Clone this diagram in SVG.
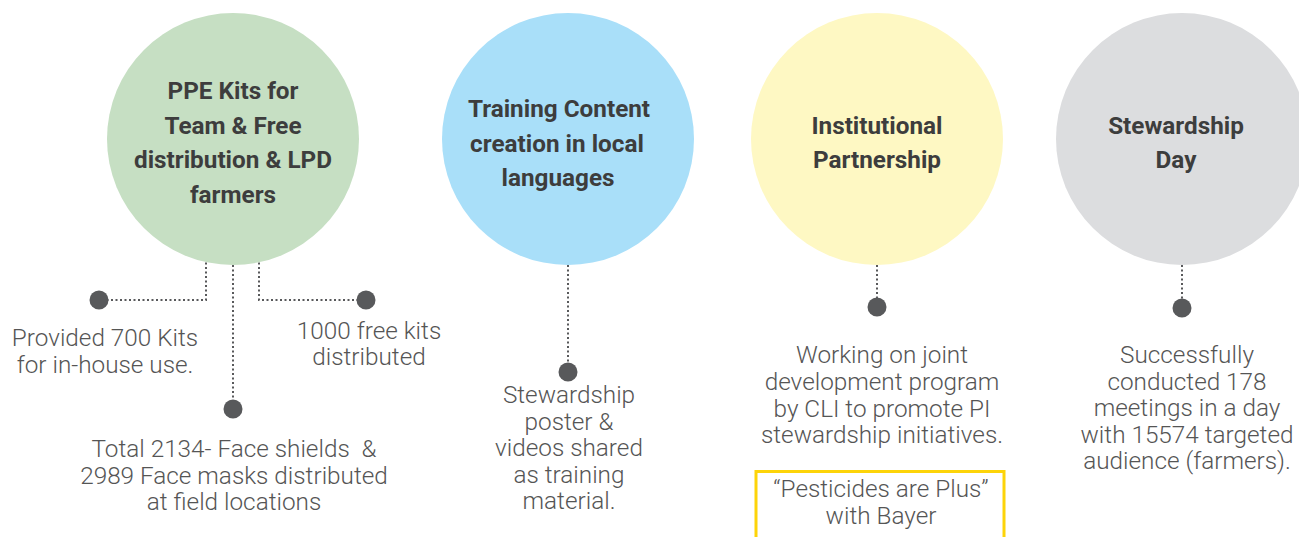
<svg xmlns="http://www.w3.org/2000/svg" width="1299" height="537" viewBox="0 0 1299 537">
<style>
.title{font-family:Roboto,"Liberation Sans",sans-serif;font-weight:700;font-size:24.3px;fill:#3d3d3d;text-anchor:middle}
.body{font-family:Roboto,"Liberation Sans",sans-serif;font-weight:300;font-size:24.3px;fill:#555555;text-anchor:middle}
.dot{fill:#58595b}
.link{fill:none;stroke:#58595b;stroke-width:2;stroke-dasharray:2 2.5}
</style>
<rect width="1299" height="537" fill="#ffffff"/>
<g id="connectors">
<path class="link" d="M206 258 V300 H99"/>
<path class="link" d="M233 265 V409"/>
<path class="link" d="M259 258 V300 H366"/>
<path class="link" d="M568 265 V372"/>
<path class="link" d="M877 265 V307"/>
<path class="link" d="M1182 265 V308"/>
</g>
<g id="node-ppe">
<circle cx="233" cy="139" r="126" fill="#c6dfc3"/>
<text class="title"><tspan x="233" y="99">PPE Kits for</tspan><tspan x="233" y="133.5">Team &amp; Free</tspan><tspan x="233" y="168">distribution &amp; LPD</tspan><tspan x="233" y="202.5">farmers</tspan></text>
</g>
<g id="node-training">
<circle cx="568" cy="139" r="126" fill="#a9dff9"/>
<text class="title"><tspan x="559" y="117">Training Content</tspan><tspan x="557" y="151.5">creation in local</tspan><tspan x="558" y="186">languages</tspan></text>
</g>
<g id="node-institutional">
<circle cx="877" cy="139" r="126" fill="#fef8c3"/>
<text class="title"><tspan x="877" y="134">Institutional</tspan><tspan x="877" y="168">Partnership</tspan></text>
</g>
<g id="node-stewardship">
<circle cx="1182" cy="139" r="126" fill="#dcdddf"/>
<text class="title"><tspan x="1176" y="134">Stewardship</tspan><tspan x="1176" y="168">Day</tspan></text>
</g>
<g id="leaf-700">
<circle class="dot" cx="99" cy="300" r="9.5"/>
<text class="body"><tspan x="105" y="346">Provided 700 Kits</tspan><tspan x="105" y="372.5">for in-house use.</tspan></text>
</g>
<g id="leaf-1000">
<circle class="dot" cx="366" cy="300" r="9.5"/>
<text class="body"><tspan x="369" y="338.5">1000 free kits</tspan><tspan x="369" y="365">distributed</tspan></text>
</g>
<g id="leaf-total">
<circle class="dot" cx="233" cy="409" r="9.5"/>
<text class="body" xml:space="preserve"><tspan x="234" y="457">Total 2134- Face shields  &amp;</tspan><tspan x="234" y="483.5">2989 Face masks distributed</tspan><tspan x="234" y="510">at field locations</tspan></text>
</g>
<g id="leaf-poster">
<circle class="dot" cx="568" cy="372" r="9.5"/>
<text class="body"><tspan x="569" y="403">Stewardship</tspan><tspan x="569" y="429.5">poster &amp;</tspan><tspan x="569" y="456">videos shared</tspan><tspan x="569" y="482.5">as training</tspan><tspan x="569" y="509">material.</tspan></text>
</g>
<g id="leaf-joint">
<circle class="dot" cx="877" cy="307" r="9.5"/>
<text class="body"><tspan x="882" y="363">Working on joint</tspan><tspan x="882" y="390">development program</tspan><tspan x="882" y="416.5">by CLI to promote PI</tspan><tspan x="882" y="443">stewardship initiatives.</tspan></text>
</g>
<g id="box-pesticides">
<rect x="756" y="471.5" width="248" height="80" fill="none" stroke="#fdd409" stroke-width="3"/>
<text class="body"><tspan x="881" y="497">“Pesticides are Plus”</tspan><tspan x="881" y="524">with Bayer</tspan></text>
</g>
<g id="leaf-meetings">
<circle class="dot" cx="1182" cy="308" r="9.5"/>
<text class="body"><tspan x="1187" y="363">Successfully</tspan><tspan x="1187" y="389.5">conducted 178</tspan><tspan x="1187" y="416">meetings in a day</tspan><tspan x="1187" y="442.5">with 15574 targeted</tspan><tspan x="1187" y="469">audience (farmers).</tspan></text>
</g>
</svg>
